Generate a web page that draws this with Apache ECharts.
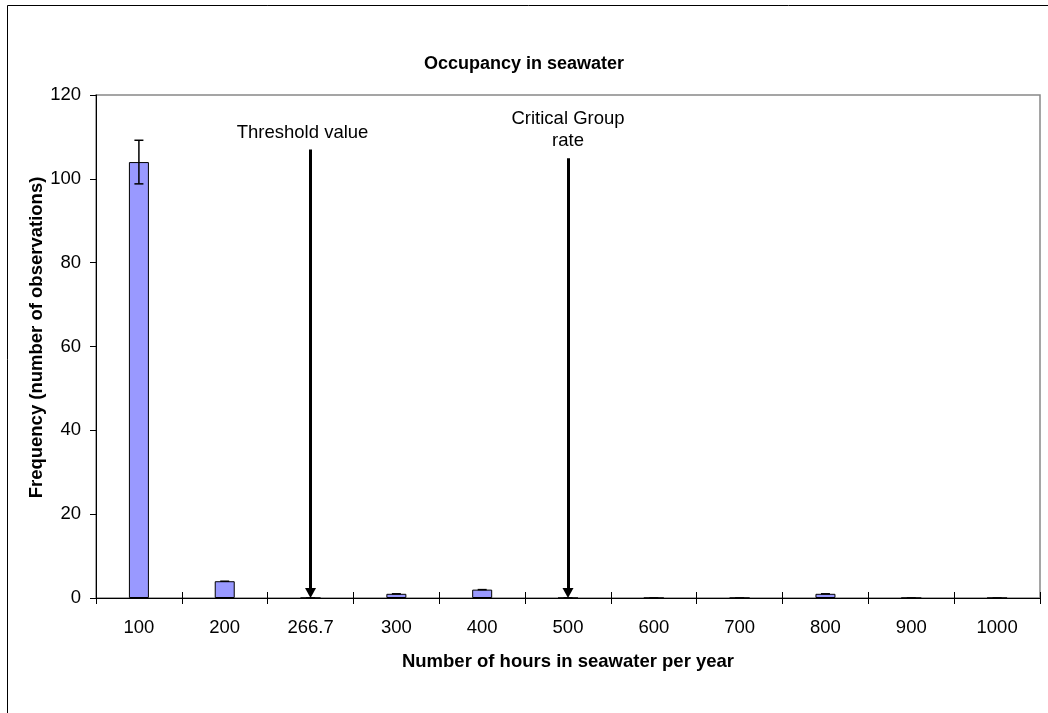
<!DOCTYPE html>
<html>
<head>
<meta charset="utf-8">
<script src="https://cdn.jsdelivr.net/npm/echarts@6/dist/echarts.min.js"></script>
<style>
html,body{margin:0;padding:0;background:#fff;}
#c{width:1048px;height:713px;}
</style>
</head>
<body>
<div id="c"></div>
<script>
const categories = ['100','200','266.7','300','400','500','600','700','800','900','1000'];
const frequency = [104, 4, 0, 1, 2, 0, 0, 0, 1, 0, 0];
const errorSize = [5.2, 0, 0, 0, 0, 0, 0, 0, 0, 0, 0];
const yTicks = [0, 20, 40, 60, 80, 100, 120];
const annotations = [
  {category: '266.7', top: 107, text: 'Threshold value', shiftLeft: 16},
  {category: '500', top: 104.9, text: 'Critical Group\nrate', shiftLeft: 0}
];

const FONT = "'Liberation Sans', Arial, sans-serif";
const chart = echarts.init(document.getElementById('c'), null, {renderer: 'canvas'});

const errData = categories.map((c, i) => [i, frequency[i], errorSize[i]]);

chart.setOption({
  animation: false,
  backgroundColor: '#fff',
  textStyle: {fontFamily: FONT},
  title: {
    text: 'Occupancy in seawater',
    left: 'center',
    top: 55,
    padding: 0,
    textStyle: {fontFamily: FONT, fontSize: 18, fontWeight: 'bold', color: '#000'}
  },
  graphic: [{
    type: 'rect',
    shape: {x: 7.5, y: 5.5, width: 1200, height: 900},
    style: {fill: 'none', stroke: '#000', lineWidth: 1},
    silent: true, z: -10
  }],
  grid: {
    left: 96, right: 8, top: 95, bottom: 115,
    show: true, borderColor: '#888', borderWidth: 1.5, backgroundColor: 'transparent'
  },
  xAxis: [{
    type: 'category',
    data: categories,
    boundaryGap: true,
    name: 'Number of hours in seawater per year',
    nameLocation: 'middle',
    nameGap: 54,
    nameMoveOverlap: false,
    nameTextStyle: {fontFamily: FONT, fontSize: 18.5, fontWeight: 'bold', color: '#000'},
    axisLine: {lineStyle: {color: '#000', width: 1}},
    axisTick: {show: true, length: 6, lineStyle: {color: '#000'}},
    axisLabel: {fontFamily: FONT, fontSize: 18.5, color: '#000', margin: 20},
    splitLine: {show: false}
  }, {
    type: 'category',
    data: categories,
    position: 'bottom',
    boundaryGap: true,
    axisLine: {show: false},
    axisTick: {show: true, inside: true, length: 6, lineStyle: {color: '#000'}},
    axisLabel: {show: false},
    splitLine: {show: false}
  }],
  yAxis: {
    type: 'value',
    min: yTicks[0],
    max: yTicks[yTicks.length - 1],
    interval: yTicks[1] - yTicks[0],
    name: 'Frequency (number of observations)',
    nameLocation: 'middle',
    nameGap: 50,
    nameMoveOverlap: false,
    nameTextStyle: {fontFamily: FONT, fontSize: 18.5, fontWeight: 'bold', color: '#000', padding: [0, 0, 0, 18]},
    axisLine: {show: true, lineStyle: {color: '#000', width: 1}},
    axisTick: {show: true, length: 6, lineStyle: {color: '#000'}},
    axisLabel: {fontFamily: FONT, fontSize: 18.5, color: '#000', margin: 15},
    splitLine: {show: false}
  },
  series: [{
    type: 'bar',
    data: frequency,
    barWidth: 20,
    itemStyle: {color: '#9999FF', borderColor: '#000', borderWidth: 1},
    markLine: {
      silent: true,
      symbol: ['none', 'none'],
      lineStyle: {color: '#000', width: 3, type: 'solid'},
      label: {
        show: true, position: 'start', distance: 6,
        fontFamily: FONT, fontSize: 18.5, color: '#000', lineHeight: 22, align: 'center',
        formatter: p => p.data.text
      },
      data: annotations.map(a => [
        {xAxis: a.category, yAxis: a.top, text: a.text, label: {padding: [0, a.shiftLeft, 0, 0]}},
        {xAxis: a.category, yAxis: 1}
      ])
    }
  }, {
    type: 'scatter',
    silent: true,
    z: 6,
    data: annotations.map(a => [a.category, 0]),
    symbol: 'path://M0,0 L11,0 L5.5,10 Z',
    symbolSize: [11, 10],
    symbolOffset: [0, -5],
    itemStyle: {color: '#000', opacity: 1}
  }, {
    type: 'custom',
    data: errData,
    z: 5,
    renderItem: function (params, api) {
      const i = api.value(0), v = api.value(1), e = api.value(2);
      const hi = api.coord([i, v + e]);
      const lo = api.coord([i, v - e]);
      const hw = 4.5;
      const st = {stroke: '#000', lineWidth: 1.5};
      const children = [
        {type: 'line', shape: {x1: hi[0] - hw, y1: hi[1], x2: hi[0] + hw, y2: hi[1]}, style: st}
      ];
      if (e > 0) {
        children.push({type: 'line', shape: {x1: hi[0], y1: hi[1], x2: lo[0], y2: lo[1]}, style: st});
        children.push({type: 'line', shape: {x1: lo[0] - hw, y1: lo[1], x2: lo[0] + hw, y2: lo[1]}, style: st});
      }
      return {type: 'group', children: children};
    }
  }]
});
</script>
</body>
</html>
